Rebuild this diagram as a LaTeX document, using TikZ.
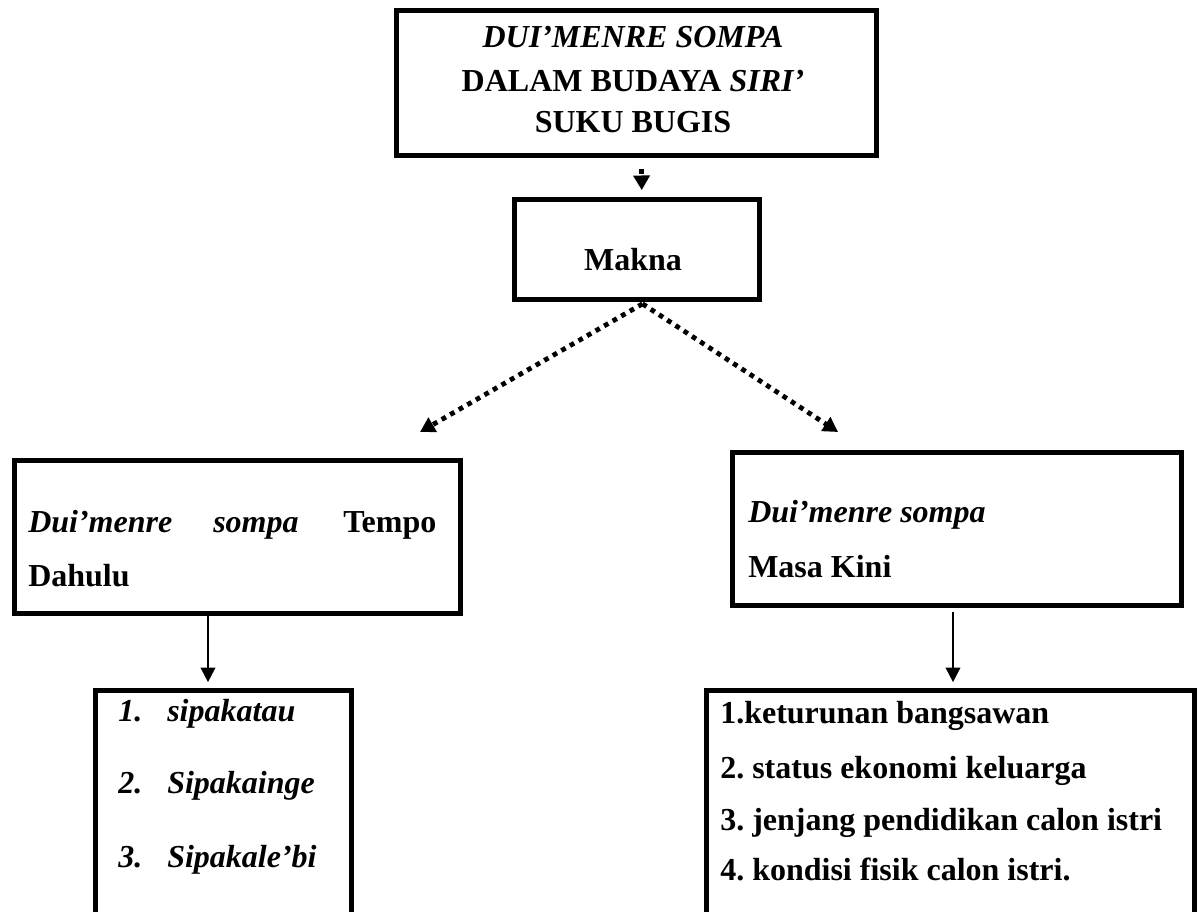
\documentclass[tikz,border=0pt]{standalone}
\usepackage{fontspec}
\setmainfont{Liberation Serif}
\usetikzlibrary{arrows.meta,fit}
\begin{document}
\frenchspacing
\begin{tikzpicture}[x=0.75pt,y=-0.75pt,
  box/.style={draw,line width=3.75pt,inner sep=0pt},
  txt/.style={inner sep=0pt,anchor=base west,font=\fontsize{24}{30}\selectfont\bfseries},
  ctxt/.style={txt,anchor=base},
  dotarrow/.style={line width=3.6pt,dash pattern=on 3.6pt off 3.8pt,-{Triangle[length=11pt,width=12pt]}},
  solidarrow/.style={line width=1.5pt,-{Triangle[length=11pt,width=11pt]}}
]
\useasboundingbox (0,0) rectangle (1198,912);
\clip (0,0) rectangle (1198,912);
% boxes
\node[box,fit={(396,11) (876,156)}] (top) {};
\node[box,fit={(514,200) (759,300)}] (makna) {};
\node[box,fit={(14,460) (460,613)}] (dahulu) {};
\node[box,fit={(732,452) (1181,605)}] (kini) {};
\node[box,fit={(95,690) (351,960)}] (nilai) {};
\node[box,fit={(706,690) (1194,960)}] (faktor) {};
% top text
\node[ctxt] (t1) at (633,48) {\itshape DUI’MENRE SOMPA};
\node[ctxt] (t2) at (633,92) {DALAM BUDAYA \itshape SIRI’};
\node[ctxt] (t3) at (633,133) {SUKU BUGIS};
\node[ctxt] (mk) at (633,271) {Makna};
% left box text
\node[txt] (d1) at (28,532) {\itshape Dui’menre};
\node[txt] (d2) at (213,532) {\itshape sompa};
\node[txt] (d3) at (343,532) {Tempo};
\node[txt] (d4) at (28,586) {Dahulu};
% right box text
\node[txt] (k1) at (748,522) {\itshape Dui’menre sompa};
\node[txt] (k2) at (748,577) {Masa Kini};
% bottom left list
\node[txt] (n1) at (118,721) {\itshape 1.};
\node[txt] (s1) at (167,721) {\itshape sipakatau};
\node[txt] (n2) at (118,793) {\itshape 2.};
\node[txt] (s2) at (167,793) {\itshape Sipakainge};
\node[txt] (n3) at (118,867) {\itshape 3.};
\node[txt] (s3) at (167,867) {\itshape Sipakale’bi};
% bottom right list
\node[txt] (f1) at (720,723) {1.keturunan bangsawan};
\node[txt] (f2) at (720,778) {2. status ekonomi keluarga};
\node[txt] (f3) at (720,830) {3. jenjang pendidikan calon istri};
\node[txt] (f4) at (720,880) {4. kondisi fisik calon istri.};
% connectors
\coordinate (lt) at (420,432);
\coordinate (rt) at (838,432);
\draw[dotarrow,shorten <=8pt,shorten >=5.5pt] ([xshift=4pt]top.south) -- ([xshift=4pt]makna.north);
\draw[dotarrow] ([xshift=4.5pt,yshift=-1pt]makna.south) -- (lt);
\draw[dotarrow] ([xshift=4.5pt,yshift=-1pt]makna.south) -- (rt);
\draw[solidarrow,shorten >=4pt] (dahulu.south -| 208,0) -- (nilai.north -| 208,0);
\draw[solidarrow,shorten <=3pt,shorten >=4pt] (kini.south -| 953,0) -- (faktor.north -| 953,0);
\end{tikzpicture}
\end{document}
